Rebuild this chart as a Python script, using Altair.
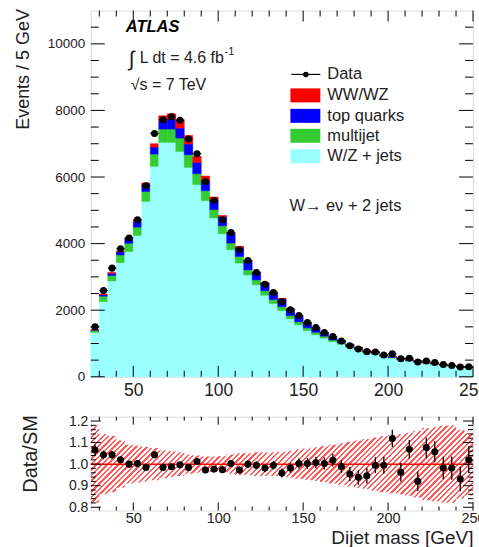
import altair as alt
import pandas as pd

# ---------------- values ----------------
bin_lo = list(range(25, 250, 5))          # lower bin edges [GeV]
bin_width = 5

data_counts = [1500, 2590, 3263, 3844, 4170, 4716, 5738, 7310, 7723, 7810,
               7703, 7143, 6701, 5868, 5297, 4716, 4335, 3814, 3493, 3132,
               2782, 2530, 2259, 2010, 1838, 1627, 1477, 1327, 1207, 1077,
               935, 836, 755, 746, 656, 688, 544, 556, 442, 474,
               428, 368, 339, 296, 299]
wz_jets = [1330, 2260, 2880, 3430, 3760, 4245, 5265, 6320, 7040, 7040,
           6770, 6290, 5770, 5290, 4770, 4295, 3815, 3415, 3060, 2760,
           2450, 2200, 1990, 1740, 1560, 1390, 1265, 1160, 1060, 975,
           880, 800, 720, 680, 600, 560, 515, 474, 438, 402,
           370, 343, 316, 291, 268]
multijet = [60, 160, 160, 230, 250, 250, 300, 370, 400, 400,
            400, 380, 330, 300, 250, 240, 200, 200, 150, 150,
            135, 120, 115, 100, 90, 80, 70, 60, 45, 45,
            40, 35, 30, 28, 25, 22, 20, 19, 17, 16,
            15, 14, 13, 12, 11]
top_quarks = [15, 50, 70, 90, 140, 180, 200, 210, 240, 300,
              300, 320, 340, 280, 260, 280, 280, 270, 260, 220,
              230, 205, 230, 190, 170, 140, 120, 95, 75, 63,
              55, 50, 43, 38, 30, 29, 26, 24, 22, 19,
              18, 16, 14, 13, 12]
ww_wz = [5, 15, 20, 20, 25, 30, 60, 100, 160, 160,
         255, 260, 180, 160, 120, 30, 25, 35, 20, 18,
         18, 18, 20, 17, 12, 12, 10, 8, 6, 6,
         5, 5, 5, 4, 4, 4, 4, 3, 3, 3,
         2, 2, 2, 2, 2]

ratio = [1.066, 1.043, 1.043, 1.020, 1.000, 1.003, 0.985, 1.043, 0.985, 0.988,
         0.997, 0.985, 1.012, 0.973, 0.977, 0.974, 1.003, 0.973, 1.000, 0.995,
         0.982, 0.995, 0.959, 0.982, 1.003, 1.003, 1.008, 1.003, 1.018, 0.989,
         0.954, 0.939, 0.946, 0.995, 0.995, 1.119, 0.962, 1.069, 0.921, 1.077,
         1.057, 0.982, 0.982, 0.931, 1.020]
ratio_err = [0.026, 0.020, 0.018, 0.016, 0.015, 0.015, 0.013, 0.012, 0.011, 0.011,
             0.011, 0.012, 0.012, 0.013, 0.014, 0.015, 0.015, 0.016, 0.017, 0.018,
             0.019, 0.020, 0.021, 0.022, 0.023, 0.025, 0.026, 0.028, 0.029, 0.030,
             0.033, 0.034, 0.036, 0.037, 0.039, 0.040, 0.043, 0.043, 0.046, 0.047,
             0.049, 0.052, 0.054, 0.057, 0.058]
syst_half = [0.18, 0.14, 0.13, 0.11, 0.09, 0.085, 0.08, 0.075, 0.065, 0.06,
             0.055, 0.045, 0.04, 0.035, 0.035, 0.037, 0.045, 0.05, 0.05, 0.055,
             0.055, 0.055, 0.058, 0.062, 0.068, 0.072, 0.078, 0.083, 0.09, 0.097,
             0.104, 0.11, 0.117, 0.123, 0.13, 0.135, 0.14, 0.146, 0.155, 0.168,
             0.172, 0.178, 0.18, 0.16, 0.145]

proc_names = ["W/Z + jets", "multijet", "top quarks", "WW/WZ"]
proc_colors = ["#99ffff", "#33cc33", "#0000ff", "#ff0000"]
proc_values = [wz_jets, multijet, top_quarks, ww_wz]

x_major = [50, 100, 150, 200, 250]
x_minor = [30, 40, 60, 70, 80, 90, 110, 120, 130, 140, 160, 170, 180, 190,
           210, 220, 230, 240]
ytop_major = [0, 2000, 4000, 6000, 8000, 10000]
ytop_minor = [500, 1000, 1500, 2500, 3000, 3500, 4500, 5000, 5500, 6500, 7000,
              7500, 8500, 9000, 9500, 10500]
ybot_major = [0.8, 0.9, 1.0, 1.1, 1.2]
ybot_minor = [0.82, 0.84, 0.86, 0.88, 0.92, 0.94, 0.96, 0.98, 1.02, 1.04,
              1.06, 1.08, 1.12, 1.14, 1.16, 1.18]

# ---------------- layout constants ----------------
W = 383
HT = 367
HB = 94
FONT = "Liberation Sans"
TXT = "#222222"
X_DOM = [25, 250]
YT_DOM = [0, 11000]
YB_DOM = [0.785, 1.22]

xs = alt.Scale(domain=X_DOM, nice=False, zero=False)
yst = alt.Scale(domain=YT_DOM, nice=False, zero=False)
ysb = alt.Scale(domain=YB_DOM, nice=False, zero=False)

# ---------------- tables ----------------
rows = []
for i, lo in enumerate(bin_lo):
    for k, (name, vals) in enumerate(zip(proc_names, proc_values)):
        rows.append({"lo": lo, "hi": lo + bin_width, "proc": name,
                     "n": vals[i], "ord": k})
stack_df = pd.DataFrame(rows)

pts_df = pd.DataFrame({
    "lo": bin_lo,
    "hi": [b + bin_width for b in bin_lo],
    "c": [b + bin_width / 2 for b in bin_lo],
    "data": data_counts,
    "ratio": ratio,
    "err": ratio_err,
})

band_df = pd.DataFrame({
    "xe": bin_lo + [X_DOM[1]],
    "s": syst_half + [syst_half[-1]],
})

cscale = alt.Scale(domain=proc_names, range=proc_colors)


def frame_axes(ys, ydom, H, ymaj, ymin, tick_len, ylab, xlab, yfmt):
    """Labelled axes plus inward tick marks on all four sides."""
    d = pd.DataFrame({"ax": [X_DOM[0]], "ay": [ydom[0]]})
    base = alt.Chart(d).mark_point(opacity=0, size=1)
    layers = []
    xaxis_kw = dict(
        orient="bottom", values=x_major, ticks=False, tickSize=0,
        domain=False, grid=False, labelFontSize=xlab["size"],
        labelPadding=xlab["pad"], labelColor=TXT, labelFont=FONT,
        labelFlush=False, labelOverlap=False, format="d")
    if xlab.get("title"):
        xaxis_kw.update(title=xlab["title"], titleFont=FONT,
                        titleFontSize=xlab.get("tsize", 20),
                        titleFontWeight="normal", titleColor=TXT,
                        titleAlign="right", titleBaseline="alphabetic",
                        titleX=W, titleY=xlab.get("ty", 30), titleAngle=0)
    else:
        xaxis_kw.update(title=None)
    layers.append(base.encode(
        x=alt.X("ax:Q", scale=xs, axis=alt.Axis(**xaxis_kw)),
        y=alt.Y("ay:Q", scale=ys, axis=None)))
    layers.append(base.encode(
        x=alt.X("ax:Q", scale=xs, axis=None),
        y=alt.Y("ay:Q", scale=ys, axis=alt.Axis(
            orient="left", values=ymaj, ticks=False, tickSize=0,
            domain=False, grid=False, labelFontSize=ylab["size"],
            labelPadding=ylab["pad"], labelColor=TXT, labelFont=FONT,
            labelFlush=False, labelOverlap=False, format=yfmt,
            title=ylab["title"], titleFont=FONT, titleFontSize=ylab["tsize"],
            titleFontWeight="normal", titleColor=TXT, titleAngle=270,
            titleAlign="right", titleBaseline="alphabetic",
            titleX=ylab["tx"], titleY=-2))))
    xmj, xmn, ymj, ymn = tick_len
    for vals, L in ((x_major, xmj), (x_minor, xmn)):
        tdf = pd.DataFrame({"tv": vals})
        tb = alt.Chart(tdf).mark_rule(color="#000000", strokeWidth=1)
        layers.append(tb.encode(x=alt.X("tv:Q", scale=xs, axis=None),
                                y=alt.value(H - L), y2=alt.value(H)))
        layers.append(tb.encode(x=alt.X("tv:Q", scale=xs, axis=None),
                                y=alt.value(0), y2=alt.value(L)))
    for vals, L in ((ymaj, ymj), (ymin, ymn)):
        tdf = pd.DataFrame({"tw": vals})
        tb = alt.Chart(tdf).mark_rule(color="#000000", strokeWidth=1)
        layers.append(tb.encode(y=alt.Y("tw:Q", scale=ys, axis=None),
                                x=alt.value(0), x2=alt.value(L)))
        layers.append(tb.encode(y=alt.Y("tw:Q", scale=ys, axis=None),
                                x=alt.value(W - L), x2=alt.value(W)))
    return layers


one = pd.DataFrame({"k": [0]})


def label(text, x, y, size, color=TXT, baseline="alphabetic", **kw):
    return alt.Chart(one).mark_text(
        text=text, font=FONT, fontSize=size, color=color, align="left",
        baseline=baseline, **kw
    ).encode(x=alt.value(x), y=alt.value(y))


# ---------------- upper panel ----------------
stack = alt.Chart(stack_df).transform_stack(
    stack="n", groupby=["lo"], as_=["y0", "y1"],
    sort=[alt.SortField("ord", order="ascending")]
).mark_rect(strokeWidth=0.5).encode(
    x=alt.X("lo:Q", scale=xs, axis=None),
    x2=alt.X2("hi"),
    y=alt.Y("y0:Q", scale=yst, axis=None),
    y2=alt.Y2("y1"),
    color=alt.Color("proc:N", scale=cscale, legend=None),
    stroke=alt.Stroke("proc:N", scale=cscale, legend=None),
)

data_h = alt.Chart(pts_df).mark_rule(color="black", strokeWidth=1.2).encode(
    x=alt.X("lo:Q", scale=xs, axis=None), x2=alt.X2("hi"),
    y=alt.Y("data:Q", scale=yst, axis=None))
data_p = alt.Chart(pts_df).mark_circle(color="black", size=50, opacity=1).encode(
    x=alt.X("c:Q", scale=xs, axis=None),
    y=alt.Y("data:Q", scale=yst, axis=None))

texts = [
    label("ATLAS", 35, 21, 16.5, color="#000000", fontWeight="bold",
          fontStyle="italic"),
    label("\u222b", 38, 56, 21),
    label("L dt = 4.6 fb", 49, 53, 16),
    label("-1", 134, 45, 11),
    label("\u221as = 7 TeV", 40, 80, 16),
    label("W\u2192 e\u03bd + 2 jets", 199, 200.5, 16.5),
]

legend_layers = [
    alt.Chart(one).mark_rule(color="black", strokeWidth=1.2).encode(
        x=alt.value(201), x2=alt.value(230), y=alt.value(64)),
    alt.Chart(one).mark_circle(color="black", size=30, opacity=1).encode(
        x=alt.value(215.5), y=alt.value(64)),
    label("Data", 237, 64, 16.5, baseline="middle"),
]
leg_rows = [("WW/WZ", "#ff0000", 85), ("top quarks", "#0000ff", 105.5),
            ("multijet", "#33cc33", 125.5), ("W/Z + jets", "#99ffff", 146)]
for name, col, yc in leg_rows:
    legend_layers.append(alt.Chart(one).mark_rect(color=col).encode(
        x=alt.value(200), x2=alt.value(230),
        y=alt.value(yc - 7), y2=alt.value(yc + 7)))
    legend_layers.append(label(name, 237, yc, 16.5, baseline="middle"))

top_axes = frame_axes(
    yst, YT_DOM, HT, ytop_major, ytop_minor, (11, 6, 14, 8),
    {"size": 13.5, "pad": 6, "title": "Events / 5 GeV", "tsize": 18, "tx": -62},
    {"size": 17.5, "pad": 5, "title": None}, "d")

top = alt.layer(stack, data_h, data_p, *texts, *legend_layers, *top_axes).properties(
    width=W, height=HT).resolve_axis(x="independent", y="independent")

# ---------------- ratio panel ----------------
rng = YB_DOM[1] - YB_DOM[0]
b_top = max(1 + s for s in syst_half)
b_bot = min(1 - s for s in syst_half)
hb_px = (b_top - b_bot) / rng * HB
den = W ** 2 + hb_px ** 2
gx2 = W * (W + hb_px) / den
gy2 = hb_px * (W + hb_px) / den
n_str = int(round((W + hb_px) / 5.5))
stops = []
for k in range(n_str):
    a, b, c = k / n_str, (k + 0.42) / n_str, (k + 1) / n_str
    stops += [{"offset": a, "color": "#ff5a5a"}, {"offset": b, "color": "#ff5a5a"},
              {"offset": b, "color": "#ffffff"}, {"offset": c, "color": "#ffffff"}]
hatch = {"gradient": "linear", "x1": 0, "y1": 0, "x2": gx2, "y2": gy2,
         "stops": stops}

band = alt.Chart(band_df).transform_calculate(
    bl="1 - datum.s", bh="1 + datum.s"
).mark_area(interpolate="step-after", color=hatch, opacity=1, clip=True).encode(
    x=alt.X("xe:Q", scale=xs, axis=None),
    y=alt.Y("bl:Q", scale=ysb, axis=None), y2=alt.Y2("bh:Q"))

unity = alt.Chart(one).mark_rule(color="#ff0000", strokeWidth=1.5).encode(
    y=alt.YDatum(1.0, scale=ysb, axis=None))

r_err = alt.Chart(pts_df).transform_calculate(
    el="datum.ratio - datum.err", eh="datum.ratio + datum.err"
).mark_rule(color="black", strokeWidth=1.3, clip=True).encode(
    x=alt.X("c:Q", scale=xs, axis=None),
    y=alt.Y("el:Q", scale=ysb, axis=None), y2=alt.Y2("eh:Q"))
r_pts = alt.Chart(pts_df).mark_circle(color="black", size=50, opacity=1,
                                      clip=True).encode(
    x=alt.X("c:Q", scale=xs, axis=None),
    y=alt.Y("ratio:Q", scale=ysb, axis=None))

bot_axes = frame_axes(
    ysb, YB_DOM, HB, ybot_major, ybot_minor, (8, 4, 10, 5),
    {"size": 14, "pad": 3, "title": "Data/SM", "tsize": 20, "tx": -54},
    {"size": 14.5, "pad": 1, "title": "Dijet mass [GeV]", "ty": 33,
     "tsize": 19}, ".1f")

bot = alt.layer(band, unity, r_err, r_pts, *bot_axes).properties(
    width=W, height=HB).resolve_axis(x="independent", y="independent")

chart = alt.vconcat(top, bot, spacing=13).properties(
    padding={"left": 14, "top": 7, "right": -10, "bottom": 0}
).configure_view(stroke="#000000", strokeWidth=1.2).configure(font=FONT)

chart.save("out.html", embed_options={"renderer": "svg", "actions": False})
